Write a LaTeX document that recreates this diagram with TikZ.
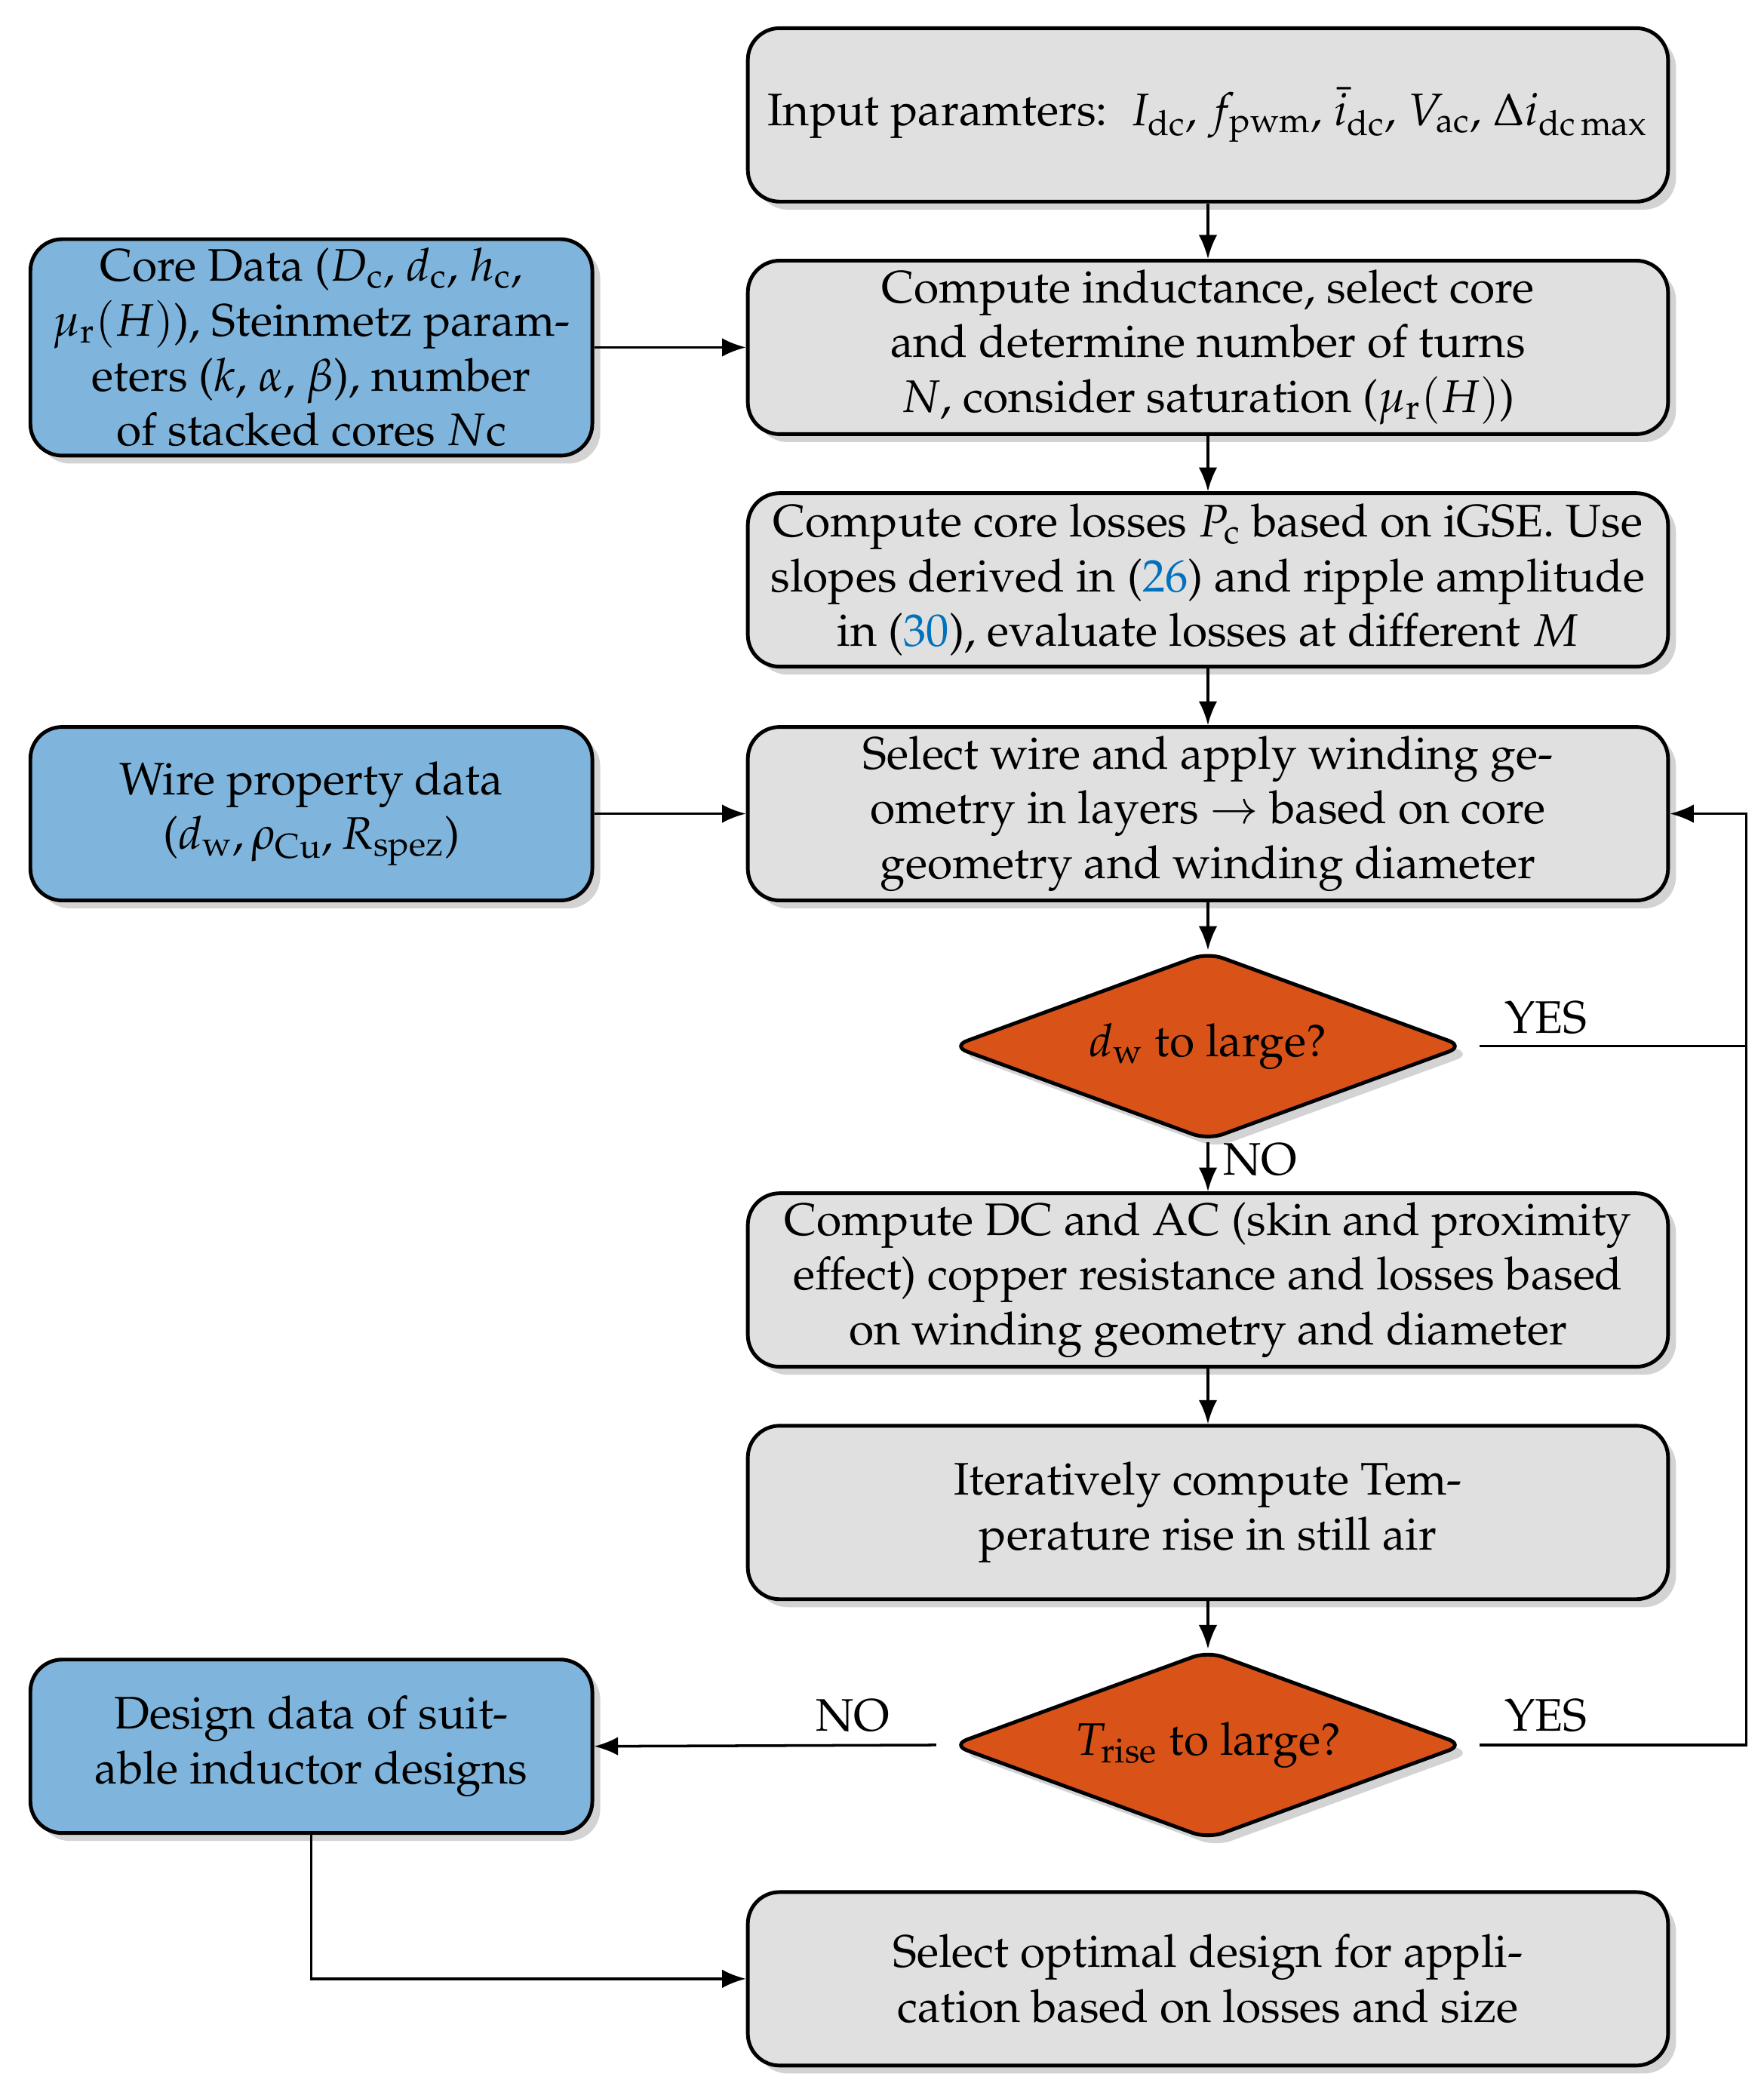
\documentclass[tikz,border=0pt]{standalone}
\usepackage[T1]{fontenc}
\usepackage{mathpazo}
\usetikzlibrary{shapes.geometric,shadows,arrows.meta}
\definecolor{boxgray}{HTML}{E0E0E0}
\definecolor{boxblue}{HTML}{7FB5DC}
\definecolor{dorange}{HTML}{D95319}
\definecolor{refblue}{HTML}{0072BD}
\begin{document}
\begin{tikzpicture}[x=0.01771cm,y=-0.01771cm,
  base/.style={draw=black,line width=1.4pt,rounded corners=12pt,align=center,
    font=\fontsize{17.2}{20.7}\selectfont,drop shadow={opacity=0.35,shadow xshift=3pt,shadow yshift=-3pt}},
  gbox/.style={base,fill=boxgray,minimum width=12.2cm,minimum height=2.3cm},
  bbox/.style={base,fill=boxblue,minimum width=7.45cm,minimum height=2.3cm},
  dia/.style={draw=black,line width=1.4pt,diamond,aspect=2.7,fill=dorange,rounded corners=6pt,
    minimum width=6.8cm,minimum height=2.5cm,inner sep=0pt,align=center,
    font=\fontsize{17.2}{20.7}\selectfont,drop shadow={opacity=0.35,shadow xshift=3pt,shadow yshift=-3pt}},
  arr/.style={-{Latex[length=9pt,width=7pt]},line width=1pt},
  lab/.style={font=\fontsize{17.2}{20.7}\selectfont}]
\useasboundingbox (0,0) rectangle (1320,1559);
\node[gbox] (in) at (904,86) {Input paramters:\ \ $I_\mathrm{dc}$, $f_\mathrm{pwm}$, $\bar{i}_\mathrm{dc}$, $V_\mathrm{ac}$, $\Delta i_{\mathrm{dc\,max}}$};
\node[gbox] (ind) at (904,260) {Compute inductance, select core\\and determine number of turns\\$N$, consider saturation ($\mu_\mathrm{r}(H)$)};
\node[gbox] (cl) at (904,434) {Compute core losses $P_\mathrm{c}$ based on iGSE. Use\\slopes derived in (\textcolor{refblue}{26}) and ripple amplitude\\in (\textcolor{refblue}{30}), evaluate losses at different $M$};
\node[gbox] (sw) at (904,609) {Select wire and apply winding ge-\\ometry in layers $\rightarrow$ based on core\\geometry and winding diameter};
\node[dia] (d1) at (904,783) {$d_\mathrm{w}$ to large?};
\node[gbox] (dc) at (904,958) {Compute DC and AC (skin and proximity\\effect) copper resistance and losses based\\on winding geometry and diameter};
\node[gbox] (it) at (904,1132) {Iteratively compute Tem-\\perature rise in still air};
\node[dia] (d2) at (904,1306) {$T_\mathrm{rise}$ to large?};
\node[gbox] (so) at (904,1481) {Select optimal design for appli-\\cation based on losses and size};
\node[bbox,minimum height=2.78cm] (cd) at (233,260) {Core Data ($D_\mathrm{c}$, $d_\mathrm{c}$, $h_\mathrm{c}$,\\$\mu_\mathrm{r}(H)$), Steinmetz param-\\eters ($k$, $\alpha$, $\beta$), number\\of stacked cores $N$c};
\node[bbox] (wp) at (233,609) {Wire property data\\($d_\mathrm{w}, \rho_\mathrm{Cu}, R_\mathrm{spez}$)};
\node[bbox] (dd) at (233,1307) {Design data of suit-\\able inductor designs};
\coordinate (c1) at (1307,783);
\coordinate (c2) at (1307,1306);
\coordinate (c3) at (233,1481);
\draw[arr] (in) -- (ind);
\draw[arr] (ind) -- (cl);
\draw[arr] (cl) -- (sw);
\draw[arr] (sw) -- (d1);
\draw[arr] (d1) -- (dc);
\draw[arr] (dc) -- (it);
\draw[arr] (it) -- (d2);
\draw[arr] (cd) -- (ind);
\draw[arr] (wp) -- (sw);
\draw[arr] (d1.east) ++(10,0) -- (c1) |- (sw.east);
\draw[line width=1pt] (d2.east) ++(10,0) -- (c2) -- (c1);
\draw[arr] (d2.west) ++(-10,0) -- (dd.east);
\draw[arr] (dd.south) -- (c3) -- (so.west);
\node[lab] at (1157,762) {YES};
\node[lab] at (1157,1284) {YES};
\node[lab] at (943,868) {NO};
\node[lab] at (638,1284) {NO};
\end{tikzpicture}
\end{document}
